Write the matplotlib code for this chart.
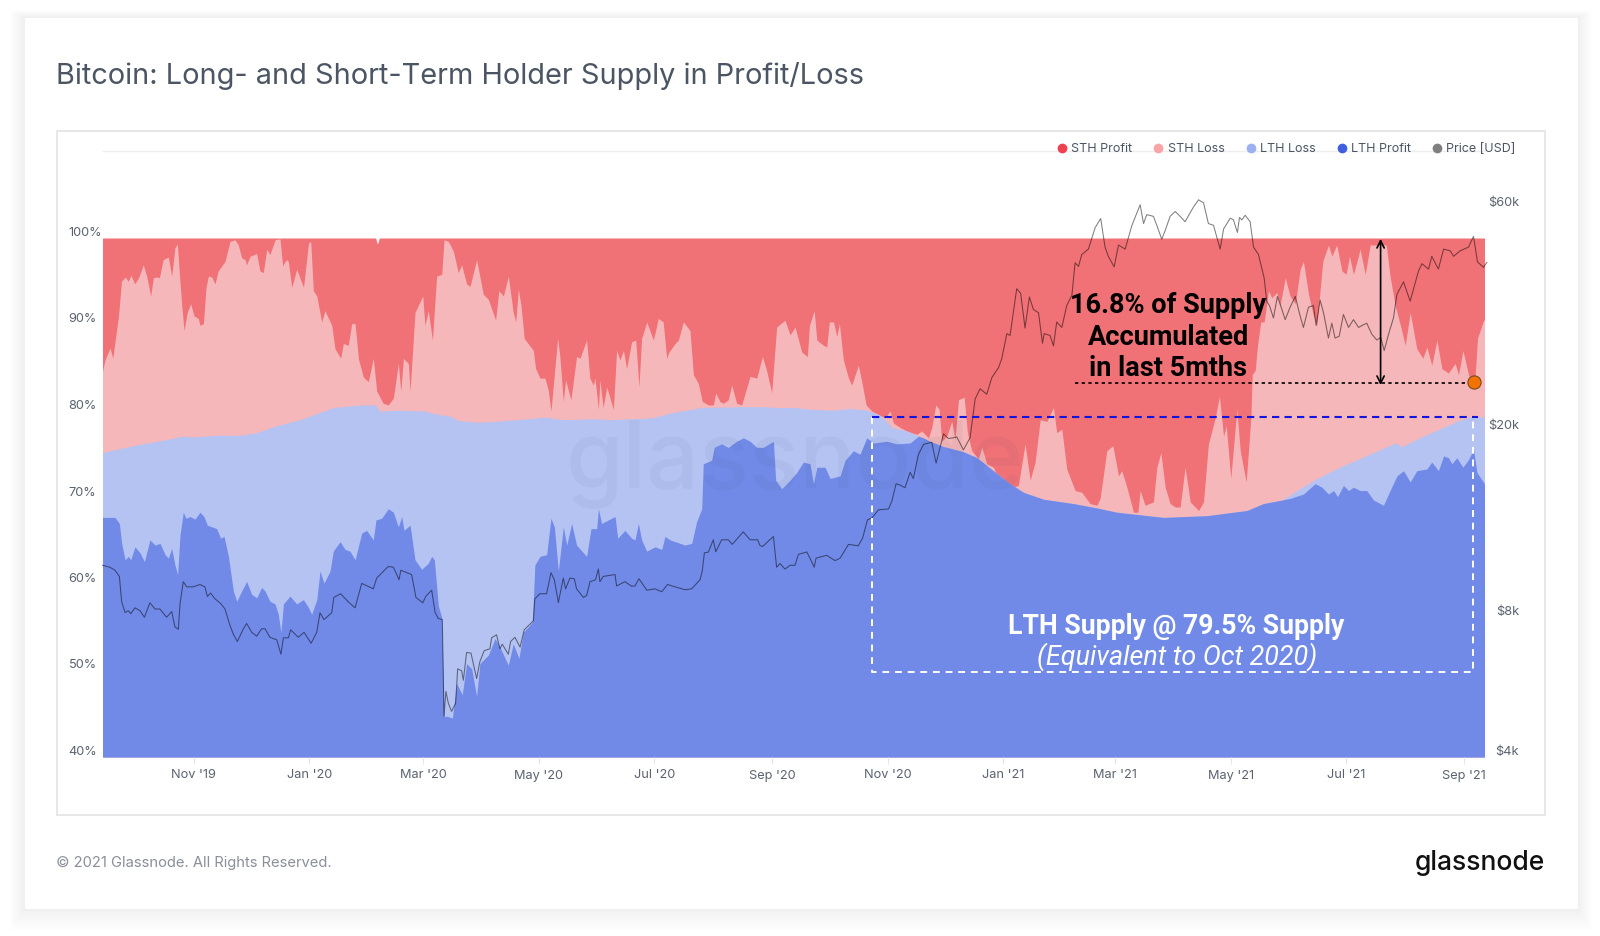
import numpy as np
import matplotlib
matplotlib.use("Agg")
import matplotlib.pyplot as plt
import matplotlib.dates as mdates
from matplotlib.lines import Line2D
from matplotlib.patches import Rectangle
from matplotlib.transforms import ScaledTranslation
from matplotlib.ticker import NullLocator

START = "2019-09-14"
END_DAY = 728.8

total_days = [0, 144, 145, 146, 728.8]
total_pct = [100, 100, 99.3, 100, 100]

# top of STH loss band (pink / red boundary), cumulative %
sth_days = [0,1.3,4,5.4,7.5,8.4,10,12,13.6,15,17,19,21.5,23.3,25.4,26.8,28.6,30,32,34.7,36.5,38.2,39.5,40.5,41.8,43,44.7,46.5,48.3,50.5,51.4,53.2,54.6,55.8,57.6,59.3,61,62.3,64.6,67.2,69.9,71.6,73.4,75.2,76,77.8,81.3,83,84.8,86.6,88.3,91,93.6,95,97,98,99.8,102.4,106,108.6,109.8,111.2,113,115.6,117.3,120.9,122.6,125.6,127,129.6,131.4,133.2,135,137.6,140.2,142.8,144.6,148,150.7,153.4,156,157.3,158.7,161.3,162.2,164.8,168.9,170,171.8,174,176.2,178.9,180.1,182.4,185,187.6,189.4,192,193.8,197.3,200.8,203.5,207.3,209,211.4,214,216.6,217.9,219.3,220.7,222.4,227.2,228.4,230.7,233.3,235,236.5,240,241.2,243,244.2,247,250,251.8,255.3,257,258.8,259.7,261.5,262.3,264,265.9,269.4,271.1,272.9,274.7,276.4,279,281.2,282.9,284.3,287,290.5,293.1,295.7,297.5,298.7,301.9,303.7,306.3,309.8,311.6,314.2,316.3,319.5,322.1,323.4,325.6,327.4,330,331.8,334.4,337,341.5,345,348,350.2,352.9,355.5,359.9,362.6,365.2,368.8,371.7,372.8,375.3,376.7,380.2,381.9,383.3,385.5,387.2,388.6,390.7,393.4,395.1,398.6,400.4,402.7,405.7,409.2,412.7,415.3,417.1,420.6,424.1,429.4,432,435.6,437.3,439.4,441.2,442.6,445.2,447.9,449.6,451.4,454.4,456.1,458.4,461.9,463.7,466.3,469.8,472.5,476.9,480.4,483,486.5,489.2,491.8,494.5,498,501.5,503.2,505.9,508.5,512.9,516.4,520.8,524.3,526.1,529.6,532.8,535.8,537.5,540.2,543.7,546,547.2,549.8,554.2,556,558.1,560.4,563,565.7,568.3,570.9,573.6,578,580.6,583.2,586.8,589,591.2,592.6,595,598.2,600,603.1,605.6,606.3,607.9,609.1,610.8,612.6,614.9,616.6,619.3,621,623.7,626.3,629,631.6,633.3,636,638.6,640.4,643.5,646.5,648.3,650.9,653.6,655.8,657.6,659.7,663.2,665.9,668.5,673.8,677,679,681.7,684.7,687,689.6,693.1,696.3,698.4,701,703.7,706.3,709.8,713.3,715.1,717.4,720.4,723,723.9,725.1,728.3,728.8]
sth_pct = [84.6,85.9,87.3,86.1,89.5,90.9,95.0,95.5,95.0,95.7,94.7,95.4,96.9,95.6,93.3,95.4,95.5,95.4,97.5,97.8,95.6,98.9,99.3,96.0,92.2,89.3,91.4,92.4,91.0,90.7,89.9,90.1,94.3,95.6,95.5,94.7,96.2,96.6,97.3,99.6,99.8,99.2,97.7,97.5,96.9,97.9,98.2,96.2,96.0,98.7,98.1,99.8,99.9,96.8,97.5,97.3,94.3,96.4,94.3,99.4,99.6,93.9,93.3,90.3,91.6,89.9,87.2,86.1,87.8,87.6,90.1,90.1,86.0,83.9,83.4,86.1,82.3,80.9,80.7,81.5,85.5,82.3,86.1,85.5,82.3,91.4,93.3,89.9,91.6,88.2,95.6,95.8,99.8,99.6,98.5,96.0,96.9,94.7,94.4,97.5,93.5,92.9,90.5,93.9,93.3,95.6,91.4,90.3,94.1,92.2,88.4,87.0,84.9,83.8,83.8,82.5,80.0,88.4,86.3,81.1,83.6,81.3,86.3,86.1,88.2,83.8,83.0,83.8,80.2,83.6,80.4,82.8,80.2,87.0,85.9,87.0,84.9,88.0,88.2,82.8,88.4,90.3,88.2,90.7,90.3,86.1,86.8,87.8,88.2,90.3,89.3,84.2,83.2,81.1,80.7,80.7,82.1,81.1,80.9,81.3,83.0,80.9,80.7,84.0,83.8,86.3,84.7,82.1,89.7,90.5,88.8,89.7,86.8,86.3,89.9,91.6,88.2,87.6,87.4,90.3,90.3,88.6,90.1,85.9,83.8,83.0,85.3,83.4,80.7,80.0,79.6,79.2,80.0,78.6,78.1,77.7,77.3,77.7,76.9,78.1,80.7,80.2,76.5,77.1,78.8,76.7,81.3,81.6,77.5,75.4,74.5,75.8,73.9,73.5,72.2,71.8,71.2,71.4,76.2,72.0,74.1,79.0,78.8,80.4,77.5,77.9,73.3,70.8,70.6,69.3,69.1,69.9,75.4,76.0,72.5,73.1,71.2,68.3,68.3,70.8,69.1,69.5,73.5,75.2,71.2,69.3,68.9,68.9,73.5,69.5,68.5,69.5,76.2,79.2,81.7,77.1,78.3,72.2,80.2,75.4,71.8,79.2,84.2,84.7,87.6,90.3,90.3,93.9,93.1,93.7,92.2,95.4,93.3,92.4,96.4,97.3,93.5,91.0,89.9,97.3,99.2,97.9,99.2,96.2,95.8,97.9,95.8,98.7,95.8,99.2,99.2,99.2,95.6,92.2,89.7,87.6,91.4,87.2,86.1,87.4,85.3,88.2,84.9,84.4,85.5,84.2,87.0,84.2,82.5,84.2,88.4,90.5,90.5]

# top of LTH loss band (LTH total), cumulative %
lth_days = [0,16.3,33.8,42.6,47.9,60.2,69,72.5,81.3,91.9,104.2,121.7,135.8,144.2,146,156.9,170,174.5,183.3,187.6,198.2,207,224.6,233.3,242.1,259.7,268.5,289.6,300.1,316,338.8,347.6,356.4,365.2,373.1,385.5,394.2,403,409.2,412.7,416.2,424.1,429.4,436.4,443.5,454,461.2,469.8,478.6,485.7,496.2,512,524.3,534.9,547.2,559.5,582.4,603.5,612.2,621.9,629.8,640.4,654.4,670.3,681.7,685.2,696.6,714.2,721.2,728.8]
lth_pct = [75.2,76.0,76.7,77.1,77.0,77.2,77.2,77.2,77.5,78.3,79.0,80.4,80.7,80.7,80.0,80.1,80.0,79.7,79.4,78.9,78.7,78.8,79.1,79.3,79.0,79.1,79.0,79.2,79.8,80.4,80.5,80.5,80.4,80.4,80.2,80.1,80.3,80.1,79.6,79.0,78.1,77.7,77.2,76.5,75.9,75.3,74.6,73.1,71.6,70.6,69.8,69.3,68.8,68.3,68.0,67.7,67.9,68.5,69.3,69.7,70.8,72.2,73.7,75.2,76.3,75.9,77.1,78.8,79.3,79.3]

# top of LTH profit band, cumulative %
lthp_days = [0,6.6,8.9,10.1,11.9,13.6,14.9,17.1,19.8,22.1,25,27.7,30.3,33,34.7,36.5,38.2,39.6,40.9,42.6,44,46.1,48.8,51.4,53.5,55.3,60.2,62.3,64.1,66.4,69,70.8,73.4,76,78.7,81.3,83.9,85.7,88.3,91,92.7,94.1,95.4,98.9,102.4,105.9,108.6,110.3,113,114.7,116.8,120,121.7,125.3,127.9,130.5,133.2,136.7,139.3,142.8,144.2,147.2,150.7,153.4,156,157.8,159,162.2,164.8,168.3,171.8,173.6,175,177.1,178.9,180.1,182,184.5,186.8,189.7,192,194.7,197.3,199,203.5,207,209.6,214,216.6,219.6,221.9,226.7,228,230.7,234.2,236.5,238.3,240.4,243,244.8,247.4,250,255.3,257.6,260.6,261.5,263.2,266.7,270.3,271.7,275.5,279,280.8,282.6,284.3,287,291.4,294.9,296.6,299.3,307.2,310.7,313.3,316,316.8,321.2,322.6,326.5,330,334.4,337.9,341.5,345,348.5,353.8,355,358.2,361.7,362.6,366.1,369.6,373.1,374.9,376.7,381,383.7,389,391.6,396,399.5,403,406.6,413.6,418.9,425.9,430.3,432.9,436.4,443.5,454,461.2,469.8,478.6,485.7,496.2,512,524.3,534.9,547.2,559.5,582.4,603.5,612.2,621.9,626.3,633.3,639.5,643,646.5,649.2,651.3,654.4,657.1,659.7,663.2,666.7,670.3,673.8,675.5,679,682.6,686.1,689.6,693.1,698.4,701,704.5,707.2,709.8,711.6,714.2,717.4,720.4,723,724.8,728.8]
lthp_pct = [67.7,67.7,67.0,64.7,62.8,63.2,62.8,64.3,63.6,62.6,65.1,64.5,64.7,63.4,63.0,64.1,62.2,61.1,65.7,68.3,67.6,67.8,67.5,68.3,67.8,66.8,66.4,65.3,65.5,63.2,59.2,58.0,59.2,60.3,58.8,58.4,59.6,59.2,58.0,57.7,56.5,54.4,57.7,58.6,57.7,58.2,57.3,56.5,58.2,61.5,60.1,61.5,63.8,64.9,64.0,63.8,62.8,65.9,66.2,65.1,67.4,67.6,68.7,68.3,66.6,67.8,66.2,66.8,62.8,61.7,62.4,63.2,62.8,57.5,56.1,44.7,44.7,44.5,48.5,47.2,50.8,50.2,47.0,50.8,51.8,53.7,52.7,50.6,53.1,51.4,54.4,55.6,62.2,63.2,63.4,67.6,66.6,61.5,66.6,64.5,67.0,64.5,63.2,66.4,66.4,68.7,67.0,67.4,67.8,65.3,66.2,65.3,65.1,67.0,65.1,63.8,64.3,64.0,65.5,65.1,64.5,64.7,67.2,68.7,73.9,74.3,75.8,76.2,75.8,76.5,76.9,76.5,75.8,75.8,76.5,72.0,71.0,71.8,72.0,72.9,74.1,73.9,71.6,73.5,73.5,72.2,72.5,74.3,75.4,75.0,76.9,76.3,76.5,76.2,76.3,77.1,76.9,76.5,75.9,75.3,74.6,73.1,71.6,70.6,69.8,69.3,68.8,68.3,68.0,67.7,67.9,68.5,69.3,69.7,69.9,70.4,71.6,71.2,70.4,70.8,70.1,71.4,70.8,71.2,70.8,70.8,69.7,69.3,69.1,70.8,72.5,73.1,71.8,73.1,73.3,74.1,73.1,74.8,74.6,73.9,74.6,73.5,74.4,75.6,72.9,71.6]

# price in USD
price_days = [0,3.9,6.6,8.9,10.1,11.9,13.6,14.9,17.1,19.8,22.1,25,27.7,30.3,33.8,36.5,38.2,40,40.9,42.6,44.4,47.9,51.4,54,55.3,57,59.3,62.3,64.6,67.2,69,71.1,74.3,76,78.7,81.3,83.9,85.7,88.3,91.9,94.1,95.4,98,99.2,103.3,106.3,110,113,114.7,116.8,120.9,122,125.6,129.6,133.2,136.7,142.8,144.6,150.7,153.4,156.4,157.3,163,165.3,168.9,170.6,173.6,175.4,177.1,179.2,180.1,181.1,182.4,184.1,186.2,187.3,189.4,190.3,192,194.3,197.3,199,201.3,204.3,205.2,207.8,209.6,210.8,214,215.2,217.5,220.2,222.4,227.2,228,230.7,234.2,236.5,238.3,240.4,243,244.2,246.5,248.8,250,253.6,255.3,257.1,260,261.5,262.3,264.1,270.3,271.1,275.5,279,280.8,282.9,287,291.3,294.9,298,301.9,307.2,310.7,315.1,316.3,317.4,319.5,322.1,323.4,326.5,330,332.1,337.9,341.5,345.5,346.7,348.1,353.8,355.5,357.3,359.9,362.6,365.2,367,371.4,373.5,375.3,376.3,381.9,386.3,389,393.4,398.6,400.9,403.4,405.7,409.2,414.5,416.2,418.5,420.6,423.2,425.9,427.6,430.3,433,437.3,439.6,443.5,446.1,448.7,450.5,454,457.5,460.2,462.8,466.3,469,472.5,474.2,476.9,478.6,482.1,484.2,486.5,488.8,490.9,493.6,495.7,496.6,499.7,501.5,503.2,505.9,508.5,511.2,512.9,514.7,516.4,519.9,523.5,526.4,528.7,530.5,533.5,535.8,539.3,542.8,547.2,549,550.7,554.2,556,558.6,560.4,563,565.7,568.3,570.9,575.3,578,580.6,583.2,585.9,589.4,591.2,594.7,596.4,598.5,599.6,600.8,602.6,605.2,607,609.6,612.6,614,615.4,617.5,619.6,621.9,623.7,626.3,629,631.6,633.3,636,638.6,640,642.1,643.9,646.5,648.3,650,652.2,654.4,657.1,659.7,662.4,664.1,666.7,669.4,672,674.1,675.9,678.2,680.8,682.6,686.1,689.6,694,695.8,699.3,701,704.5,707.2,710.7,712.5,716,720.4,723,725.1,728.3,730]
price_usd = [10300,10200,10050,9750,8600,8160,8230,8110,8350,8230,7970,8560,8300,8300,7970,8200,7600,7510,8530,9500,9260,9260,9370,9260,8830,8980,8730,8530,8300,7660,7330,7070,7530,7730,7400,7260,7530,7530,7220,7130,6640,7200,7200,7490,7220,7400,7010,7400,8150,7880,8150,8790,8950,8600,8350,9420,9170,9670,10240,10200,9590,10050,9840,8790,8560,8850,9110,8160,7920,7880,4890,5530,5210,5010,5210,6180,6120,5840,6700,6680,5890,6400,6760,6820,7200,7310,6820,6980,6640,7070,7220,6880,7490,7830,8730,8950,8950,9930,9590,8570,9670,9170,9670,9640,9170,8790,8870,9500,9590,10110,9500,9750,9840,9300,9500,9290,9300,9640,9110,9170,9040,9370,9260,9130,9170,9590,10020,10950,10990,11680,11010,11680,11680,11420,12150,11680,11680,11360,11300,11870,10200,10390,10110,10300,10300,10870,11000,10580,10200,10670,10820,10540,10670,11420,11340,11800,12890,13000,13540,13600,14100,15400,15300,15100,16300,15800,17800,18700,18900,17050,19700,19250,19320,19400,18200,19320,23400,24600,23950,26000,27300,28500,32300,32000,40300,39400,33200,38700,36400,35800,30800,32300,32000,30400,34200,33300,37100,39000,45800,45000,47700,49000,54500,57000,49500,47200,44900,50000,49000,55000,61000,55600,58100,57600,55100,51450,53700,57600,59000,57600,56100,60300,62500,61600,55600,55100,49000,54100,57100,56600,53200,57300,56600,57900,56100,49500,47700,42500,37800,37100,34900,38800,36450,34600,36800,38800,35200,33300,36800,37100,33600,38100,35800,31600,34000,31600,31900,35500,33300,34600,33300,33600,34000,32200,31300,31700,29700,32200,34900,39200,41700,37900,44000,45600,44400,47300,44400,49000,48600,47300,48600,49500,52200,46000,44800,45900]

pct_ticks = [40, 50, 60, 70, 80, 90, 100]
price_ticks = [4000, 8000, 20000, 60000]
price_tick_labels = ["$4k", "$8k", "$20k", "$60k"]
x_ticks = ["2019-11-01","2020-01-01","2020-03-01","2020-05-01","2020-07-01","2020-09-01","2020-11-01","2021-01-01","2021-03-01","2021-05-01","2021-07-01","2021-09-01"]
legend_names = ["STH Profit", "STH Loss", "LTH Loss", "LTH Profit", "Price [USD]"]
legend_colors = ["#EF4050", "#F9A5A8", "#9BB0F0", "#3F5FE0", "#7F7F7F"]

RED, PINK, LBLUE, DBLUE = "#F07176", "#F5B7B9", "#B5C3F3", "#718AE8"

W, H = 1600, 936
plt.rcParams["font.family"] = ["Inter", "DejaVu Sans"]
fig = plt.figure(figsize=(W / 100, H / 100), dpi=100, facecolor="white")

def figrect(x0, y0, x1, y1):
    return (x0 / W, 1 - y1 / H, (x1 - x0) / W, (y1 - y0) / H)

# card shadow
for i in range(14):
    g = 14 - i
    x, y, w, h = figrect(23.5 - g, 17 - g * 0.5, 1578 + g, 909 + g * 1.5)
    fig.add_artist(Rectangle((x, y), w, h, transform=fig.transFigure,
                             fc="black", ec="none", alpha=0.0045))
x, y, w, h = figrect(23.5, 17, 1578, 909)
fig.add_artist(Rectangle((x, y), w, h, transform=fig.transFigure, fc="white", ec="#f0f0f0", lw=0.8))
x, y, w, h = figrect(57, 130.5, 1545, 815)
fig.add_artist(Rectangle((x, y), w, h, transform=fig.transFigure, fc="white", ec="#e3e3e3", lw=1.2))

TOP_PX, Y100, Y40 = 151, 238, 757
L, R = 102.5, 1484.5
px_per_pct = (Y40 - Y100) / 60
pct_top = 100 + (Y100 - TOP_PX) / px_per_pct
rect = (L / W, 1 - Y40 / H, (R - L) / W, (Y40 - TOP_PX) / H)

x0 = mdates.date2num(np.datetime64(START))
def dx(days):
    return x0 + np.asarray(days, dtype=float)

ax = fig.add_axes(rect, zorder=1, facecolor="none")
ax.fill_between(dx(total_days), 40, total_pct, color=RED, lw=0)
ax.fill_between(dx(sth_days), 40, sth_pct, color=PINK, lw=0)
ax.fill_between(dx(lth_days), 40, lth_pct, color=LBLUE, lw=0)
ax.fill_between(dx(lthp_days), 40, lthp_pct, color=DBLUE, lw=0)
ax.set_xlim(x0, x0 + END_DAY)
ax.set_ylim(40, pct_top)
for s in ["left", "right", "bottom"]:
    ax.spines[s].set_visible(False)
ax.spines["top"].set_color("#eeeeee")
ax.spines["top"].set_linewidth(1)

ax.set_yticks(pct_ticks)
ax.set_yticklabels([f"{v}%" for v in pct_ticks])
ax.tick_params(axis="y", length=0, pad=24.5, labelsize=9.2, labelcolor="#5b6370")
shift = ScaledTranslation(0, 6.5 / 100, fig.dpi_scale_trans)
for lab in ax.get_yticklabels():
    lab.set_ha("left")
    lab.set_transform(lab.get_transform() + shift)

ax.set_xticks([mdates.date2num(np.datetime64(d)) for d in x_ticks])
ax.xaxis.set_major_formatter(mdates.DateFormatter("%b '%y"))
ax.tick_params(axis="x", length=5, width=0.8, color="#e6e6e6", pad=4, labelsize=9.2, labelcolor="#5b6370")

# watermark
ax.text((795 - L) / (R - L), 1 - (488 - TOP_PX) / (Y40 - TOP_PX), "glassnode", transform=ax.transAxes,
        ha="center", va="baseline", fontsize=67, fontweight=500, color="#3a4565", alpha=0.055, zorder=5)

# price axis
ax2 = fig.add_axes(rect, zorder=2, facecolor="none", sharex=ax)
ax2.plot(dx(price_days), price_usd, color="black", alpha=0.5, lw=0.75, clip_on=False, solid_joinstyle="round")
ax2.set_yscale("log")
ax2.set_ylim(4000, 4000 * 2 ** ((Y40 - TOP_PX) / 140.5))
ax2.yaxis.tick_right()
ax2.set_yticks(price_ticks)
ax2.set_yticklabels(price_tick_labels)
ax2.yaxis.set_minor_locator(NullLocator())
ax2.tick_params(axis="y", length=0, pad=24.8, labelsize=9.2, labelcolor="#5b6370")
for lab in ax2.get_yticklabels():
    lab.set_ha("right")
    lab.set_transform(lab.get_transform() + shift)
ax2.tick_params(axis="x", bottom=False, labelbottom=False)
for s in ax2.spines.values():
    s.set_visible(False)

# annotation overlay (uses the % scale)
ax3 = fig.add_axes(rect, zorder=3, facecolor="none", sharex=ax)
ax3.set_ylim(40, pct_top)
ax3.axis("off")
d1, d2 = x0 + 406, x0 + 722.6
ax3.plot([d1, d1, d2, d2], [79.3, 49.8, 49.8, 79.3], color="white", lw=1.4, ls=(0, (3.5, 3)))
ax3.plot([d1, d2 + 3], [79.3, 79.3], color="#1414E0", lw=1.5, ls=(0, (3.5, 2.5)))
ax3.plot([x0 + 513, x0 + 722], [83.2, 83.2], color="black", lw=1.2, ls=(0, (2, 2)))
ax3.annotate("", xy=(x0 + 674, 99.9), xytext=(x0 + 674, 83.0),
             arrowprops=dict(arrowstyle="<->", color="black", lw=1.2, mutation_scale=13, shrinkA=0, shrinkB=0))
ax3.plot([x0 + 723], [83.3], "o", ms=9.5, mfc="#F27300", mec="#7A4A20", mew=0.8)

xc = x0 + 562
for yv, t in [(92.2, "16.8% of Supply"), (88.55, "Accumulated"), (84.95, "in last 5mths")]:
    ax3.text(xc, yv, t, ha="center", va="center", fontsize=19.5, fontweight="bold", family="Roboto", color="black")
ax3.text(x0 + 566, 55.05, "LTH Supply @ 79.5% Supply", ha="center", va="center", fontsize=19.2,
         fontweight="bold", family="Roboto", color="white")
ax3.text(x0 + 566.5, 51.55, "(Equivalent to Oct 2020)", ha="center", va="center", fontsize=19.4,
         fontstyle="italic", family="Roboto", color="white")

# legend
handles = [Line2D([], [], ls="none", marker="o", ms=7, mfc=c, mec="none") for c in legend_colors]
leg = ax3.legend(handles, legend_names, ncol=5, loc="center right", frameon=False,
                 bbox_to_anchor=((1515.5 - L) / (R - L), 1 + 2 / (Y40 - TOP_PX)),
                 borderpad=0, borderaxespad=0, handlelength=0.8, handletextpad=0.35,
                 columnspacing=1.67, fontsize=9.0, labelcolor="#4b5563")

fig.text(56 / W, 1 - 76 / H, "Bitcoin: Long- and Short-Term Holder Supply in Profit/Loss",
         ha="left", va="center", fontsize=20.85, color="#4b5563")
fig.text(56 / W, 1 - 863.5 / H, "\u00a9 2021 Glassnode. All Rights Reserved.",
         ha="left", va="center", fontsize=10.6, color="#8a8f98")
fig.text(1545 / W, 1 - 870 / H, "glassnode", ha="right", va="baseline", fontsize=19,
         fontweight=500, color="#111111")

fig.savefig("out.png", dpi=100, facecolor="white")
